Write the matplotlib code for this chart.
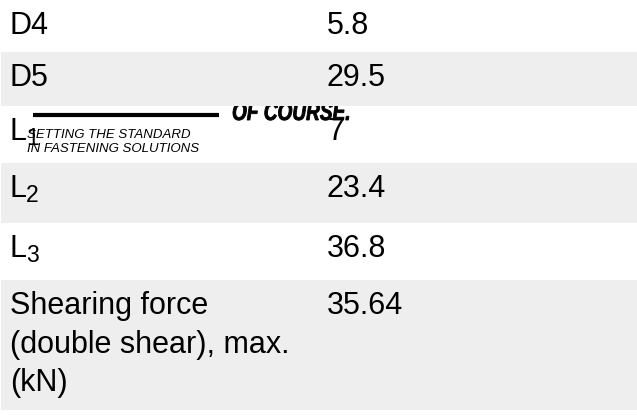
import matplotlib
matplotlib.use("Agg")
import matplotlib.pyplot as plt
from matplotlib.patches import Rectangle, PathPatch
from matplotlib.textpath import TextPath
from matplotlib.font_manager import FontProperties
from matplotlib.transforms import Affine2D

# table contents
labels = ["D4", "D5", "L", "L", "L", "Shearing force\n(double shear), max.\n(kN)"]
label_subs = ["", "", "1", "2", "3", ""]
values = ["5.8", "29.5", "7", "23.4", "36.8", "35.64"]

# logo text that sits over the L1 row
logo_tag = "OF COURSE."
logo_lines = ["SETTING THE STANDARD", "IN FASTENING SOLUTIONS"]

# layout (pixels)
row_edges = [0, 52, 106, 163, 223, 280, 410]
W, H = 637, 415
label_x, value_x = 10, 327
base_off = 34
line_step = 38.5
gray = "#eeeeee"

plt.rcParams["font.family"] = ["Liberation Sans", "DejaVu Sans"]

fig = plt.figure(figsize=(W / 100, H / 100), dpi=100)
ax = fig.add_axes([0, 0, 1, 1])
ax.set_xlim(0, W)
ax.set_ylim(H, 0)
ax.axis("off")

for i in range(len(labels)):
    top, bot = row_edges[i], row_edges[i + 1]
    base = top + base_off
    if i % 2 == 1:
        ax.add_patch(Rectangle((1, top), W - 1, bot - top, color=gray, lw=0, zorder=3))
    for j, line in enumerate(labels[i].split("\n")):
        ax.text(label_x, base + j * line_step, line, fontsize=22,
                va="baseline", ha="left", color="black", zorder=4)
    if label_subs[i]:
        ax.text(label_x + 16, base + 5, label_subs[i], fontsize=16.5,
                va="baseline", ha="left", color="black", zorder=4)
    ax.text(value_x, base, values[i], fontsize=22,
            va="baseline", ha="left", color="black", zorder=4)

# logo pieces (partly hidden under the gray row above)
ax.plot([33, 219], [115.5, 115.5], color="black", lw=3, solid_capstyle="butt", zorder=2)

# condensed heavy italic tag, squeezed horizontally
fp = FontProperties(family="Liberation Sans", weight="bold", style="italic")
tp = TextPath((0, 0), logo_tag, size=25, prop=fp)
w = tp.get_extents().width
tr = Affine2D().scale(116 / w, -1).translate(232, 120)
ax.add_patch(PathPatch(tr.transform_path(tp), fc="black", ec="black", lw=0.6, zorder=2))

for j, line in enumerate(logo_lines):
    ax.text(27, 138 + j * 13.5, line, fontsize=9.5, fontstyle="italic",
            va="baseline", ha="left", color="black", zorder=2)

fig.savefig("out.png", dpi=100)
